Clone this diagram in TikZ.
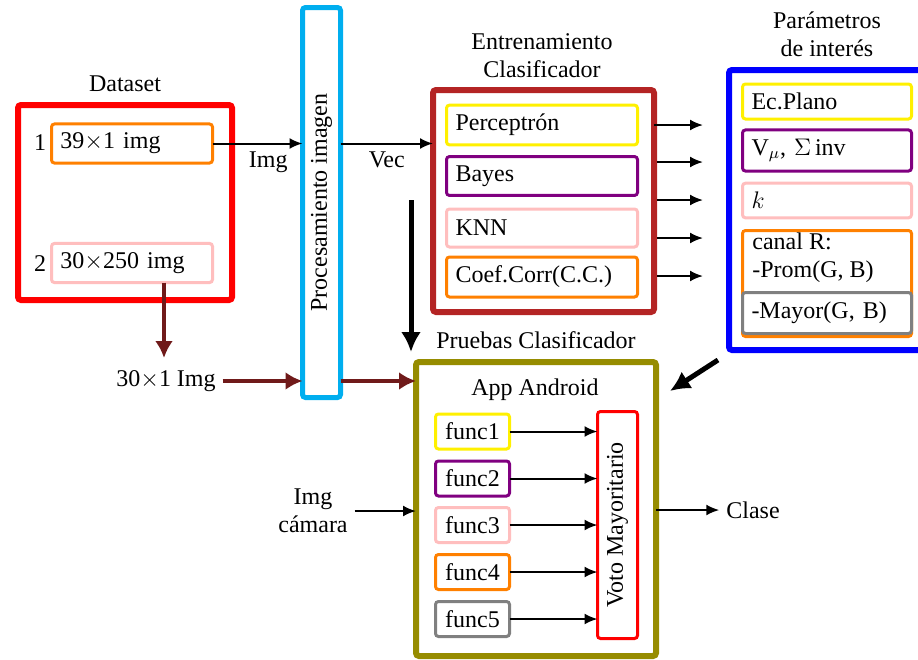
\documentclass[tikz,border=0pt]{standalone}
\usepackage{fontspec}
\setmainfont{Liberation Serif}
\usepackage{tkz-graph}
\usetikzlibrary{arrows.meta}

\definecolor{dsred}{RGB}{255,0,0}
\definecolor{orng}{RGB}{255,128,0}
\definecolor{pnk}{RGB}{255,190,190}
\definecolor{procblue}{RGB}{0,174,239}
\definecolor{entrred}{RGB}{180,36,36}
\definecolor{yllw}{RGB}{255,240,0}
\definecolor{prpl}{RGB}{128,0,128}
\definecolor{gry}{RGB}{128,128,128}
\definecolor{parblue}{RGB}{0,0,255}
\definecolor{olv}{RGB}{150,140,0}
\definecolor{darkarrow}{RGB}{112,26,26}

\tikzset{
  outerbox/.style={shape=rectangle, draw=#1, line width=3pt, rounded corners=1.5pt, fill=white, text=black},
  innerbox/.style={shape=rectangle, draw=#1, line width=1.5pt, rounded corners=1.5pt, fill=white, text=black, align=left, inner sep=4.5pt},
  funcbox/.style={shape=rectangle, draw=#1, line width=1.5pt, rounded corners=1.5pt, fill=white, text=black, minimum width=37pt, minimum height=17.5pt, inner sep=0pt}
}

\begin{document}
\begin{tikzpicture}[x=0.5pt,y=-0.5pt,font=\fontsize{12}{14}\selectfont]
\useasboundingbox (0,0) rectangle (918,660);
% Dataset
\node (dstitle) at (125,84) {Dataset};
\tikzset{VertexStyle/.style={outerbox=dsred, minimum width=107pt, minimum height=97.5pt}}
\Vertex[x=125,y=202.5,NoLabel]{Ds}
\tikzset{VertexStyle/.style={innerbox=orng, text width=71.5pt, minimum height=19pt}}
\Vertex[x=132,y=143.5,L={39$\times$1 img}]{DsA}
\tikzset{VertexStyle/.style={innerbox=pnk, text width=71.5pt, minimum height=19pt}}
\Vertex[x=132,y=263,L={30$\times$250 img}]{DsB}
\node (numA) at (40,143) {1};
\node (numB) at (40,264) {2};
\node (tres) at (166,381) {30$\times$1 Img};
% Procesamiento
\tikzset{VertexStyle/.style={shape=rectangle, draw=procblue, line width=2.5pt, rounded corners=1.5pt, fill=white, text=black, minimum width=19pt, minimum height=195pt, inner sep=0pt}}
\Vertex[x=321.5,y=202.5,L={\rotatebox{90}{Procesamiento imagen}}]{Proc}
% Entrenamiento
\node[align=center] (entrtitle) at (542,56) {Entrenamiento\\Clasificador};
\tikzset{VertexStyle/.style={outerbox=entrred, minimum width=110.5pt, minimum height=111pt}}
\Vertex[x=543.5,y=201,NoLabel]{Entr}
\tikzset{VertexStyle/.style={innerbox=yllw, text width=86.5pt, minimum height=19pt}}
\Vertex[x=542,y=125,L={Perceptrón}]{Perc}
\tikzset{VertexStyle/.style={innerbox=prpl, text width=86.5pt, minimum height=19pt}}
\Vertex[x=542,y=176,L={Bayes}]{Bay}
\tikzset{VertexStyle/.style={innerbox=pnk, text width=86.5pt, minimum height=19pt}}
\Vertex[x=542,y=228,L={KNN}]{Knn}
\tikzset{VertexStyle/.style={innerbox=orng, text width=86.5pt, minimum height=19pt}}
\Vertex[x=542,y=277,L={Coef.Corr(C.C.)}]{CC}
% Parametros
\node[align=center] (partitle) at (827,34) {Parámetros\\de interés};
\tikzset{VertexStyle/.style={outerbox=parblue, minimum width=101.5pt, minimum height=140pt}}
\Vertex[x=830.5,y=210,NoLabel]{Par}
\tikzset{VertexStyle/.style={innerbox=yllw, text width=75.5pt, minimum height=16pt}}
\Vertex[x=827,y=101.5,L={Ec.Plano}]{ParA}
\tikzset{VertexStyle/.style={innerbox=prpl, text width=75.5pt, minimum height=19pt}}
\Vertex[x=827,y=150.5,L={V$_\mu$, $\Sigma$\,inv}]{ParB}
\tikzset{VertexStyle/.style={innerbox=pnk, text width=75.5pt, minimum height=16pt}}
\Vertex[x=827,y=200.5,L={$k$}]{ParC}
\tikzset{VertexStyle/.style={innerbox=orng, text width=75.5pt, minimum height=53pt}}
\Vertex[x=827,y=283.5,NoLabel]{ParD}
\node[anchor=north west, align=left, inner sep=0pt] (canaltxt) at (752,232) {canal R:\\-Prom(G, B)};
\tikzset{VertexStyle/.style={innerbox=gry, text width=75.5pt, minimum height=20.5pt}}
\Vertex[x=827,y=313,L={-Mayor(G, B)}]{ParE}
% Pruebas
\node (prtitle) at (536,340) {Pruebas Clasificador};
\tikzset{VertexStyle/.style={outerbox=olv, minimum width=120pt, minimum height=147pt}}
\Vertex[x=536,y=509,NoLabel]{Prue}
\node (apptitle) at (535,390) {App Android};
\tikzset{VertexStyle/.style={funcbox=yllw}}
\Vertex[x=472.5,y=431.5,L={func1}]{Fa}
\tikzset{VertexStyle/.style={funcbox=prpl}}
\Vertex[x=472.5,y=478.5,L={func2}]{Fb}
\tikzset{VertexStyle/.style={funcbox=pnk}}
\Vertex[x=472.5,y=525,L={func3}]{Fc}
\tikzset{VertexStyle/.style={funcbox=orng}}
\Vertex[x=472.5,y=572,L={func4}]{Fd}
\tikzset{VertexStyle/.style={funcbox=gry}}
\Vertex[x=472.5,y=619,L={func5}]{Fe}
\tikzset{VertexStyle/.style={shape=rectangle, draw=red, line width=1.5pt, rounded corners=1.5pt, fill=white, text=black, minimum width=20pt, minimum height=113.5pt, inner sep=0pt}}
\Vertex[x=617.5,y=525,L={\rotatebox{90}{Voto Mayoritario}}]{Voto}
\node[align=center] (cam) at (313,511) {Img\\cámara};
\node (clase) at (753,510) {Clase};
% flechas
\tikzset{LabelStyle/.style={below=1.5pt, pos=0.62, text=black, fill=none, inner sep=2pt}}
\tikzset{EdgeStyle/.style={draw, line width=1pt, -{Latex[length=6.5pt,width=5.5pt]}}}
\Edge[label=Img](DsA.east)(DsA -| Proc.west)
\tikzset{LabelStyle/.style={below=1.5pt, pos=0.5, text=black, fill=none, inner sep=2pt}}
\Edge[label=Vec](Proc.east |- DsA)(Entr.west |- DsA)
\coordinate (eoa) at (Entr.east |- Perc);
\coordinate (eia) at (703,125);
\coordinate (eob) at (657,162);
\coordinate (eib) at (703,162);
\coordinate (eoc) at (657,200);
\coordinate (eic) at (703,200);
\coordinate (eod) at (657,238);
\coordinate (eid) at (703,238);
\coordinate (eoe) at (657,276);
\coordinate (eie) at (703,276);
\Edge(eoa)(eia)
\Edge(eob)(eib)
\Edge(eoc)(eic)
\Edge(eod)(eid)
\Edge(eoe)(eie)
\Edge(Fa.east)(Fa -| Voto.west)
\Edge(Fb.east)(Fb -| Voto.west)
\Edge(Fc.east)(Fc -| Voto.west)
\Edge(Fd.east)(Fd -| Voto.west)
\Edge(Fe.east)(Fe -| Voto.west)
\Edge(cam.east)(cam -| Prue.west)
\Edge(Prue.east |- clase)(clase.west)
\tikzset{EdgeStyle/.style={draw=darkarrow, line width=2pt, -{Latex[length=8.5pt,width=9pt]}}}
\coordinate (tresin) at (164,358);
\Edge(DsB.south -| tresin)(tresin)
\Edge(tres.east)(tres -| Proc.west)
\Edge(Proc.east |- tres)(Prue.west |- tres)
\tikzset{EdgeStyle/.style={draw, line width=2.5pt, -{Latex[length=10pt,width=10pt]}}}
\coordinate (vtop) at (411,200);
\coordinate (vbot) at (411,352);
\Edge(vtop)(vbot)
\coordinate (dtop) at (718,360);
\coordinate (dbot) at (670,391);
\Edge(dtop)(dbot)
\end{tikzpicture}
\end{document}
